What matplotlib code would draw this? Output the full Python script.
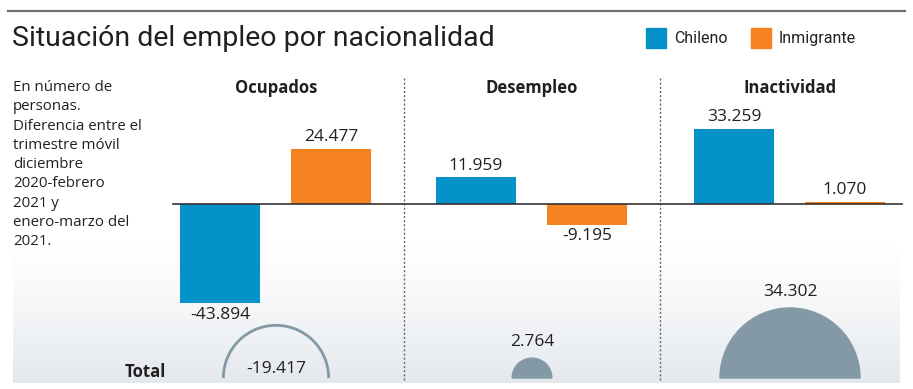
import numpy as np
import matplotlib.pyplot as plt
from matplotlib.patches import Wedge, Arc
from matplotlib import font_manager as fm

# data (miles de personas)
groups = ['Ocupados', 'Desempleo', 'Inactividad']
chileno = [-43.894, 11.959, 33.259]
inmigrante = [24.477, -9.195, 1.070]
total = [-19.417, 2.764, 34.302]
series = ['Chileno', 'Inmigrante']

BLUE = '#0592c8'
ORANGE = '#f5821f'
DOME = '#8499a6'
TXT = '#231f20'

names = {f.name for f in fm.fontManager.ttflist}
narrow = 'Liberation Sans Narrow' if 'Liberation Sans Narrow' in names else 'Roboto'
body = 'Open Sans'

W, H = 913, 389
fig = plt.figure(figsize=(W / 100, H / 100), dpi=100)

# pixel layout axes (y from top)
ax = fig.add_axes([0, 0, 1, 1])
ax.set_xlim(0, W)
ax.set_ylim(H, 0)
ax.axis('off')

# background gradient at bottom
grad = np.linspace(0, 1, 200).reshape(-1, 1)
c0 = np.array([1.0, 1.0, 1.0])
c1 = np.array([0.895, 0.912, 0.93])
img = c0 + (c1 - c0) * grad[:, :, None] ** 1.2
ax.imshow(img, extent=[13, 900, 383, 245], aspect='auto', zorder=0)

# top rule and title
ax.plot([8, 905], [11, 11], color='#6d6e70', lw=1.6, zorder=2)
ax.text(12, 38, 'Situación del empleo por nacionalidad', fontsize=20.5,
        family=narrow, color=TXT, va='center', ha='left')

# legend
for i, (name, col) in enumerate(zip(series, [BLUE, ORANGE])):
    x0 = 646 + i * 105
    ax.add_patch(plt.Rectangle((x0, 28), 20, 20, color=col, zorder=3))
    ax.text(x0 + 28, 38, name, fontsize=11.5, family=narrow, color=TXT, va='center')

# note
note = ('En número de\npersonas.\nDiferencia entre el\ntrimestre móvil\ndiciembre\n'
        '2020-febrero\n2021 y\nenero-marzo del\n2021.')
ax.text(13, 80, note, fontsize=10.8, family=body, color=TXT, va='top',
        linespacing=1.39)

# layout positions
centers = [276, 532, 790]
for xs in [404, 660]:
    ax.plot([xs, xs], [78, 382], color='#666666', lw=1, ls=(0, (1.5, 1.5)), zorder=2)
for c, g in zip(centers, groups):
    ax.text(c, 88, g, fontsize=12, family=body, weight='bold', color=TXT,
            ha='center', va='center')

# bars in data units
px_per_k = 2.26
base_px = 204
axb = fig.add_axes([0, 0, 1, 1])
axb.set_xlim(0, W)
axb.set_ylim(-(H - base_px) / px_per_k, base_px / px_per_k)
axb.axis('off')
axb.patch.set_alpha(0)

bw = 80
off = 55.5
xc = np.array(centers) - 0.5
xb = xc - off
xo = xc + off
axb.bar(xb, chileno, width=bw, color=BLUE, zorder=3)
axb.bar(xo, inmigrante, width=bw, color=ORANGE, zorder=3)
axb.axhline(0, xmin=173 / W, xmax=902 / W, color='#333333', lw=1.2, zorder=4)

def fmt(v):
    s = f'{abs(v):.3f}'
    return ('-' if v < 0 else '') + s

for x, v in list(zip(xb, chileno)) + list(zip(xo, inmigrante)):
    if v >= 0:
        axb.text(x, v + 1.5, fmt(v), ha='center', va='bottom', fontsize=12.5,
                 family=body, color=TXT)
    else:
        axb.text(x, v - 1.5, fmt(v), ha='center', va='top', fontsize=12.5,
                 family=body, color=TXT)

# totals as half discs (area ~ value)
axt = fig.add_axes([0, 0, 1, 1])
axt.set_xlim(0, W)
axt.set_ylim(0, H)
axt.axis('off')
axt.patch.set_alpha(0)
k = 0.378
ybase = H - 378
for c, v in zip(centers, total):
    r = k * np.sqrt(abs(v) * 1000)
    if v < 0:
        axt.add_patch(Arc((c, ybase), 2 * r, 2 * r, theta1=0, theta2=180,
                          color=DOME, lw=2, zorder=3))
        axt.text(c, ybase + 9, fmt(v), ha='center', va='center', fontsize=12.5,
                 family=body, color=TXT, zorder=4)
    else:
        axt.add_patch(Wedge((c, ybase), r, 0, 180, color=DOME, zorder=3))
        axt.text(c, ybase + r + 8, fmt(v), ha='center', va='bottom', fontsize=12.5,
                 family=body, color=TXT, zorder=4)

axt.text(145, ybase + 6, 'Total', ha='center', va='center', fontsize=12,
         family=body, weight='bold', color=TXT)

fig.savefig('out.png', dpi=100)
